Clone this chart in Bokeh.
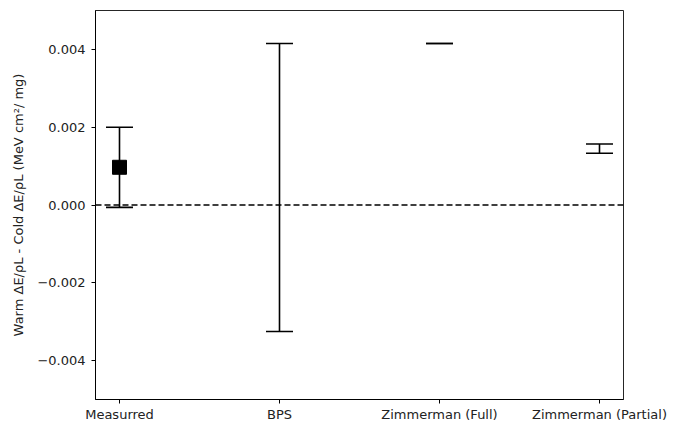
from bokeh.plotting import figure
from bokeh.models import ColumnDataSource, Whisker, TeeHead, Span, FixedTicker
from bokeh.embed import file_html
from bokeh.resources import INLINE

# Warm-minus-cold stopping power differences per model
categories = ["Measurred", "BPS", "Zimmerman (Full)", "Zimmerman (Partial)"]
values = [0.00097, 0.00045, 0.00415, 0.00145]
errors = [0.00103, 0.00370, 0.0, 0.00012]
y_ticks = [-0.004, -0.002, 0.0, 0.002, 0.004]
baseline = 0.0

FONT = "DejaVu Sans"

xs = list(range(len(categories)))
src = ColumnDataSource(data=dict(
    x=xs,
    y=values,
    upper=[v + e for v, e in zip(values, errors)],
    lower=[v - e for v, e in zip(values, errors)],
))

p = figure(
    width=684, height=426,
    x_range=(-0.15, len(categories) - 1 + 0.15),
    y_range=(-0.005, 0.005),
    output_backend="svg", toolbar_location=None,
    min_border_left=95, min_border_right=61,
    min_border_top=10, min_border_bottom=27,
)
p.grid.visible = False
p.outline_line_color = "black"
p.outline_line_alpha = 0.85
p.outline_line_width = 1

# zero reference line
p.add_layout(Span(location=baseline, dimension="width", line_color="black",
                  line_dash="6 3", line_width=1.6))

# error bars with caps
whisk = Whisker(
    source=src, base="x", upper="upper", lower="lower", dimension="height",
    line_color="black", line_width=1.6,
    upper_head=TeeHead(size=27, line_color="black", line_width=1.6),
    lower_head=TeeHead(size=27, line_color="black", line_width=1.6),
)
p.add_layout(whisk)

# measured point marker
p.scatter(x=[xs[0]], y=[values[0]], marker="square", size=14,
          color="black")

# x axis: one tick per category
p.xaxis.ticker = FixedTicker(ticks=xs)
p.xaxis.major_label_overrides = {i: c for i, c in zip(xs, categories)}

# y axis: fixed ticks with a true minus sign
p.yaxis.ticker = FixedTicker(ticks=y_ticks)
p.yaxis.major_label_overrides = {t: f"{t:.3f}".replace("-", "\u2212") for t in y_ticks}
p.yaxis.axis_label = "Warm \u0394E/\u03c1L - Cold \u0394E/\u03c1L (MeV cm\u00b2/ mg)"

for ax in (p.xaxis, p.yaxis):
    ax.minor_tick_line_color = None
    ax.major_tick_in = 0
    ax.major_tick_out = 4
    ax.major_tick_line_color = "black"
    ax.axis_line_color = "black"
    ax.major_label_text_font = FONT
    ax.major_label_text_font_size = "13px"
    ax.major_label_text_color = "#222222"
    ax.axis_label_text_font = FONT
    ax.axis_label_text_font_size = "13px"
    ax.axis_label_text_font_style = "normal"
    ax.axis_label_text_color = "#222222"

p.yaxis.major_label_standoff = 6
p.yaxis.axis_label_standoff = 8
p.xaxis.major_label_standoff = 3

open("out.html", "w").write(file_html(p, INLINE))
